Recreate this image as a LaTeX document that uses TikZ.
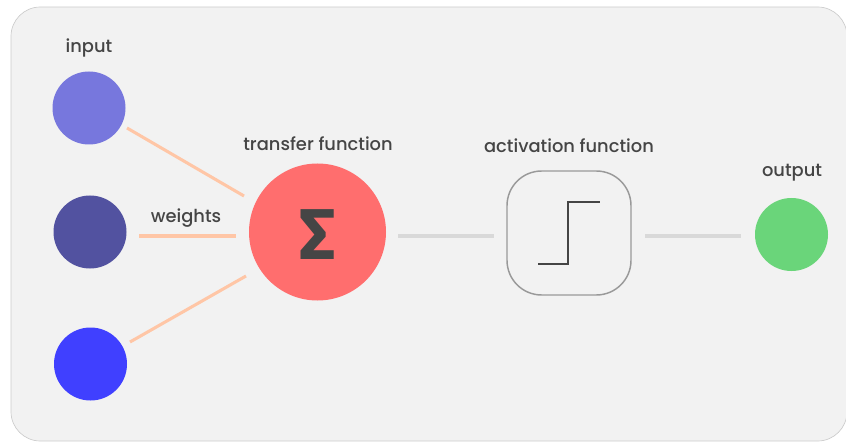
\documentclass[tikz,border=0pt]{standalone}
\usepackage{fontspec}
\setmainfont{Poppins Medium}
\newfontfamily\sigmafont{Fira Sans}
\definecolor{bgc}{HTML}{F2F2F2}
\definecolor{txt}{HTML}{454545}
\definecolor{inA}{HTML}{7777DD}
\definecolor{inB}{HTML}{5252A0}
\definecolor{inC}{HTML}{4040FF}
\definecolor{sumc}{HTML}{FF6E6E}
\definecolor{outc}{HTML}{6AD57A}
\definecolor{wline}{HTML}{FFC6A6}
\definecolor{gline}{HTML}{D9D9D9}
\definecolor{boxc}{HTML}{999999}
\begin{document}
\begin{tikzpicture}[x=0.75pt,y=-0.75pt,
  lbl/.style={text=txt,font=\fontsize{13.4}{15}\selectfont,inner sep=0pt},
  neuron/.style={circle,inner sep=0pt,minimum size=#1*0.75pt},
  wedge/.style={draw=wline,line width=2.3pt},
  gedge/.style={draw=gline,line width=2.3pt}]
\useasboundingbox (0,0) rectangle (846,442);
\fill[bgc,draw=black!20,line width=0.5pt,rounded corners=22pt] (11,7) rectangle (847,441);
\node[neuron=73,fill=inA] (i1) at (89,108) {};
\node[neuron=73,fill=inB] (i2) at (90,232) {};
\node[neuron=73,fill=inC] (i3) at (90.5,364) {};
\node[neuron=137,fill=sumc] (s) at (317.5,232) {};
\node[text=txt,font=\sigmafont\bfseries\fontsize{54}{54}\selectfont,inner sep=0pt,anchor=base] (sg) at (317.5,259) {Σ};
\node[draw=boxc,line width=1.1pt,rounded corners=26pt,minimum size=124*0.75pt,inner sep=0pt] (a) at (569,233) {};
\node[neuron=73,fill=outc] (o) at (791.5,234.5) {};
\coordinate (st1) at (538,264);
\coordinate (st2) at (568,264);
\coordinate (st3) at (568,202);
\coordinate (st4) at (600,202);
\draw[draw=txt,line width=1.2pt] (st1) -- (st2) -- (st3) -- (st4);
\coordinate (w1a) at (127,128); \coordinate (w1b) at (244,196);
\coordinate (w2a) at (139,236); \coordinate (w2b) at (236,236);
\coordinate (w3a) at (130,342); \coordinate (w3b) at (246,276);
\draw[wedge] (w1a) -- (w1b);
\draw[wedge] (w2a) -- (w2b);
\draw[wedge] (w3a) -- (w3b);
\coordinate (g1a) at (398,236); \coordinate (g1b) at (494,236);
\coordinate (g2a) at (645,236); \coordinate (g2b) at (741,236);
\draw[gedge] (g1a) -- (g1b);
\draw[gedge] (g2a) -- (g2b);
\node[lbl] (t1) at (89,48) {input};
\node[lbl] (t2) at (186,218) {weights};
\node[lbl] (t3) at (318,144) {transfer function};
\node[lbl] (t4) at (569,146) {activation function};
\node[lbl] (t5) at (792,173) {output};
\end{tikzpicture}
\end{document}
